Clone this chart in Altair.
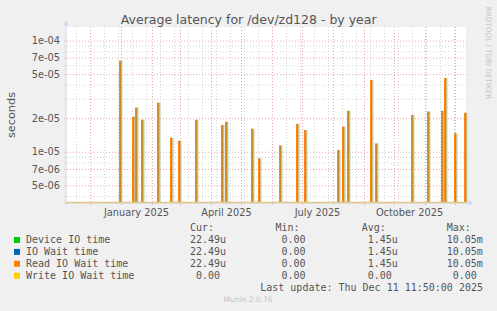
import altair as alt
import pandas as pd

# ---------------- data ----------------
spike_days = ["2024-12-30", "2025-01-12", "2025-01-15", "2025-01-21", "2025-02-06",
              "2025-02-19", "2025-02-27", "2025-03-16", "2025-04-11", "2025-04-15",
              "2025-05-11", "2025-05-18", "2025-06-08", "2025-06-25", "2025-07-03",
              "2025-08-05", "2025-08-10", "2025-08-15", "2025-09-07", "2025-09-12",
              "2025-10-18", "2025-11-03", "2025-11-17", "2025-11-20", "2025-11-30",
              "2025-12-10"]
spike_values = [6.65e-5, 2.09e-5, 2.52e-5, 1.96e-5, 2.79e-5,
                1.35e-5, 1.27e-5, 1.96e-5, 1.76e-5, 1.88e-5,
                1.63e-5, 8.83e-6, 1.15e-5, 1.80e-5, 1.585e-5,
                1.05e-5, 1.70e-5, 2.36e-5, 4.47e-5, 1.20e-5,
                2.16e-5, 2.32e-5, 2.36e-5, 4.65e-5, 1.48e-5,
                2.27e-5]

major_ticks = [1e-4, 7e-5, 5e-5, 2e-5, 1e-5, 7e-6, 5e-6]
major_labels = ["1e-04", "7e-05", "5e-05", "2e-05", "1e-05", "7e-06", "5e-06"]
minor_ticks = [4e-6, 6e-6, 8e-6, 9e-6, 3e-5, 4e-5, 6e-5, 8e-5, 9e-5]

month_label_dates = ["2025-01-16", "2025-04-16", "2025-07-16", "2025-10-16"]
month_labels = ["January 2025", "April 2025", "July 2025", "October 2025"]

series_names = ["Device IO time", "IO Wait time", "Read IO Wait time", "Write IO Wait time"]
series_colors = ["#00cc00", "#0066b3", "#ff8000", "#ffcc00"]
cur_vals = ["22.49u", "22.49u", "22.49u", " 0.00"]
min_vals = [" 0.00", " 0.00", " 0.00", " 0.00"]
avg_vals = [" 1.45u", " 1.45u", " 1.45u", " 0.00"]
max_vals = ["10.05m", "10.05m", "10.05m", " 0.00"]

title = "Average latency for /dev/zd128 - by year"
last_update = "Last update: Thu Dec 11 11:50:00 2025"
version = "Munin 2.0.76"
side_text = "RRDTOOL / TOBI OETIKER"

# ---------------- layout ----------------
W, H = 400, 176
PAD = {"left": 66, "top": 27, "right": 31, "bottom": 108}
MONO = "DejaVu Sans Mono"
SANS = "DejaVu Sans"
TXT = "#555555"
CHAR_W = 6.02  # DejaVu Sans Mono advance at 10px


def iso(ts):
    return pd.Timestamp(ts).strftime("%Y-%m-%dT%H:%M:%SZ")


xscale = alt.Scale(
    type="utc",
    domain=[alt.DateTime(year=2024, month=11, date=6, hours=11, minutes=50, utc=True),
            alt.DateTime(year=2025, month=12, date=11, hours=11, minutes=50, utc=True)],
)
yscale = alt.Scale(type="log", domain=[3.503e-6, 1.336e-4])

X = lambda f: alt.X(f, type="temporal", scale=xscale, axis=None)
Y = lambda f: alt.Y(f, type="quantitative", scale=yscale, axis=None)

spikes = pd.DataFrame({
    "t": [iso(pd.Timestamp(d) + pd.Timedelta(hours=12)) for d in spike_days],
    "v": spike_values,
})
major_df = pd.DataFrame({"v": major_ticks, "label": major_labels})
minor_df = pd.DataFrame({"v": minor_ticks})
month_lines = pd.DataFrame({"t": [iso(t) for t in pd.date_range("2024-12-01", "2025-12-01", freq="MS")]})
week_lines = pd.DataFrame({"t": [iso(t) for t in pd.date_range("2024-11-17", "2025-12-10", freq="14D")]})
month_lab_df = pd.DataFrame({"t": [iso(pd.Timestamp(d)) for d in month_label_dates], "label": month_labels})
one = pd.DataFrame({"k": [0]})

layers = []


def text(x, y, s, align="left", font=MONO, size=10, color=TXT, angle=0, baseline="middle"):
    lead = len(s) - len(s.lstrip(" "))
    if align == "left":
        x = x + lead * CHAR_W
    kw = dict(align=align, baseline=baseline, font=font, fontSize=size, color=color, fontWeight="normal")
    if angle:
        kw["angle"] = angle
    return alt.Chart(one).mark_text(**kw).encode(x=alt.value(x), y=alt.value(y), text=alt.value(s.strip(" ")))


# grid
layers.append(alt.Chart(minor_df).mark_rule(color="#d6d6d6", strokeDash=[1, 2], strokeWidth=1)
              .encode(y=Y("v"), x=alt.value(-2), x2=alt.value(W + 2)))
layers.append(alt.Chart(week_lines).mark_rule(color="#d6d6d6", strokeDash=[1, 2], strokeWidth=1)
              .encode(x=X("t"), y=alt.value(0), y2=alt.value(H)))
layers.append(alt.Chart(month_lines).mark_rule(color="#eaa4a4", strokeDash=[1, 2], strokeWidth=1)
              .encode(x=X("t"), y=alt.value(0), y2=alt.value(H + 3)))
layers.append(alt.Chart(major_df).mark_rule(color="#eaa4a4", strokeDash=[1, 2], strokeWidth=1)
              .encode(y=Y("v"), x=alt.value(-2), x2=alt.value(W + 2)))

# spikes
layers.append(alt.Chart(spikes).mark_rule(color="#a9c48f", strokeWidth=2.5, opacity=0.45, xOffset=1.6)
              .encode(x=X("t"), y=Y("v"), y2=alt.value(H)))
layers.append(alt.Chart(spikes).mark_rule(color="#bf8a32", strokeWidth=1.6, xOffset=0.6)
              .encode(x=X("t"), y=Y("v"), y2=alt.value(H)))
layers.append(alt.Chart(spikes).mark_rule(color="#ff8000", strokeWidth=1.1, xOffset=-0.4)
              .encode(x=X("t"), y=Y("v"), y2=alt.value(H)))

# axes
layers.append(alt.Chart(one).mark_rule(color="#d0d6f4", strokeWidth=1)
              .encode(x=alt.value(0), y=alt.value(-3), y2=alt.value(H + 2)))
layers.append(alt.Chart(one).mark_rule(color="#d0d6f4", strokeWidth=1)
              .encode(x=alt.value(-2), x2=alt.value(W + 4), y=alt.value(H)))
layers.append(alt.Chart(one).mark_rule(color="#e2c888", strokeWidth=1.5)
              .encode(x=alt.value(0), x2=alt.value(W), y=alt.value(H - 0.5)))
layers.append(alt.Chart(one).mark_point(shape="triangle-up", filled=True, color="#d0d6f4", size=30, opacity=1)
              .encode(x=alt.value(0), y=alt.value(-4)))
layers.append(alt.Chart(one).mark_point(shape="triangle-right", filled=True, color="#d0d6f4", size=30, opacity=1)
              .encode(x=alt.value(W + 5), y=alt.value(H)))

# y tick labels
layers.append(alt.Chart(major_df).mark_text(align="right", baseline="middle", font=SANS, fontSize=9.8,
                                            color=TXT, fontWeight="normal")
              .encode(y=Y("v"), x=alt.value(-6), text="label:N"))
# x labels
layers.append(alt.Chart(month_lab_df).mark_text(align="center", baseline="middle", font=SANS, fontSize=9.8,
                                                color=TXT, fontWeight="normal")
              .encode(x=X("t"), y=alt.value(H + 10), text="label:N"))

# titles
layers.append(text(182.7, -3, title, align="center", font=SANS, size=12.5, baseline="alphabetic"))
layers.append(text(-54, H / 2, "seconds", align="center", font=SANS, size=11.3, angle=270))
layers.append(text(421.5, 26, side_text, align="center", font=SANS, size=7.2, color="#c4c4c4", angle=90))

# legend
for xx, hdr in [(124, "Cur:"), (209.5, "Min:"), (295.7, "Avg:"), (380.7, "Max:")]:
    layers.append(text(xx, 200.7, hdr))

for i, name in enumerate(series_names):
    yy = 213 + 11.9 * i
    layers.append(alt.Chart(one).mark_square(filled=True, color=series_colors[i], size=36, opacity=1)
                  .encode(x=alt.value(-49), y=alt.value(yy)))
    for xx, txt in [(-40, name), (124, cur_vals[i]), (209.5, min_vals[i]),
                    (295.7, avg_vals[i]), (380.7, max_vals[i])]:
        layers.append(text(xx, yy, txt))

layers.append(text(417, 260.7, last_update, align="right"))
layers.append(text(182, 273, version, align="center", font=SANS, size=7.5, color="#c4c4c4"))

chart = alt.layer(*layers).properties(
    width=W, height=H,
    autosize=alt.AutoSizeParams(type="none"),
    padding=PAD,
    background="#f0f0f0",
).configure_view(fill="white", strokeWidth=0)

chart.save("out.html", embed_options={"renderer": "svg", "actions": False})
